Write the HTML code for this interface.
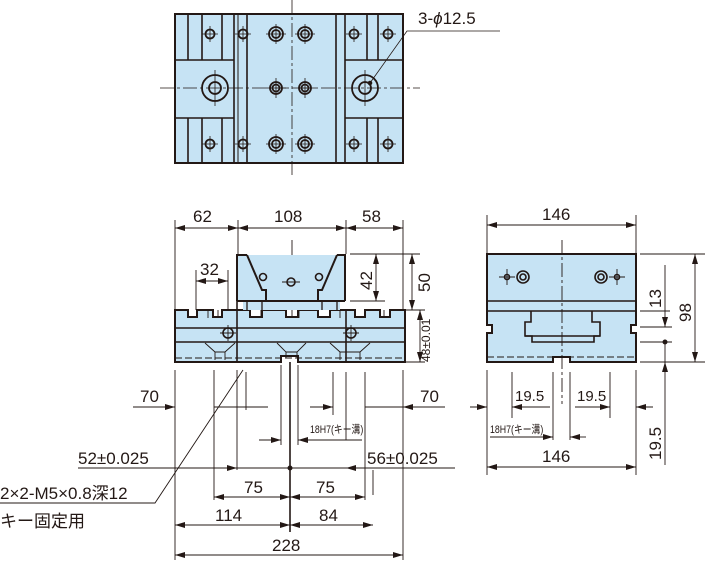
<!DOCTYPE html>
<html><head><meta charset="utf-8"><style>
html,body{margin:0;padding:0;background:#fff;}
svg{display:block;}
text{font-family:"Liberation Sans","Noto Sans CJK JP",sans-serif;fill:#231815;}
</style></head><body>
<svg width="705" height="564" viewBox="0 0 705 564" xmlns="http://www.w3.org/2000/svg">
<defs>
<marker id="a" viewBox="0 0 10 6" refX="10" refY="3" markerWidth="10" markerHeight="6" orient="auto-start-reverse" markerUnits="userSpaceOnUse"><path d="M0,0L10,3L0,6z" fill="#231815"/></marker>
</defs>
<g stroke="#231815" fill="none">
<!-- TOP VIEW -->
<rect x="175" y="14" width="228" height="149" fill="#c6e3f4" stroke-width="2"/>
<g stroke-width="1.6">
<line x1="234" y1="14" x2="234" y2="163"/><line x1="247" y1="14" x2="247" y2="163"/>
<line x1="238" y1="14" x2="238" y2="163" stroke-width="1"/>
<line x1="336" y1="14" x2="336" y2="163"/><line x1="345" y1="14" x2="345" y2="163"/>
<line x1="175" y1="60" x2="234" y2="60"/><line x1="175" y1="118" x2="234" y2="118"/>
<line x1="345" y1="60" x2="403" y2="60"/><line x1="345" y1="118" x2="403" y2="118"/>
<line x1="188" y1="14" x2="188" y2="60"/><line x1="202" y1="14" x2="202" y2="60"/><line x1="222" y1="14" x2="222" y2="60"/>
<line x1="188" y1="118" x2="188" y2="163"/><line x1="202" y1="118" x2="202" y2="163"/><line x1="222" y1="118" x2="222" y2="163"/>
<line x1="367" y1="14" x2="367" y2="60"/><line x1="378" y1="14" x2="378" y2="60"/>
<line x1="367" y1="118" x2="367" y2="163"/><line x1="378" y1="118" x2="378" y2="163"/>
</g>
<g stroke-width="1.8">
<circle cx="215" cy="88" r="13"/><circle cx="215" cy="88" r="6"/>
<circle cx="365" cy="88" r="13"/><circle cx="365" cy="88" r="6"/>
<circle cx="210" cy="34" r="4.5"/><circle cx="243" cy="34" r="4.5"/><circle cx="210" cy="144" r="4.5"/><circle cx="243" cy="144" r="4.5"/>
<circle cx="354" cy="34" r="4.5"/><circle cx="388" cy="34" r="4.5"/><circle cx="354" cy="144" r="4.5"/><circle cx="388" cy="144" r="4.5"/>
<circle cx="276" cy="34" r="7"/><circle cx="276" cy="34" r="4"/><circle cx="305" cy="34" r="7"/><circle cx="305" cy="34" r="4"/>
<circle cx="276" cy="88" r="6"/><circle cx="276" cy="88" r="3.5"/><circle cx="305" cy="88" r="6"/><circle cx="305" cy="88" r="3.5"/>
<circle cx="276" cy="144" r="7"/><circle cx="276" cy="144" r="4"/><circle cx="305" cy="144" r="7"/><circle cx="305" cy="144" r="4"/>
</g>
<g stroke-width="0.8">
<path d="M202 34h16M210 26v16M235 34h16M243 26v16M202 144h16M210 136v16M235 144h16M243 136v16"/>
<path d="M346 34h16M354 26v16M380 34h16M388 26v16M346 144h16M354 136v16M380 144h16M388 136v16"/>
<path d="M266 34h20M276 24v20M295 34h20M305 24v20M266 144h20M276 134v20M295 144h20M305 134v20"/>
<path d="M266 88h20M276 78v20M295 88h20M305 78v20"/>
<path d="M215 70v36M365 70v36"/>
<line x1="160" y1="88" x2="420" y2="88" stroke-dasharray="14,3,3,3"/>
<line x1="292" y1="0" x2="292" y2="175" stroke-dasharray="14,3,3,3"/>
<path d="M370 83L407 31H500"/>
</g>
<circle cx="370" cy="83" r="1.8" fill="#231815"/>

<!-- FRONT VIEW -->
<path d="M175 310H188V317H197V310H213V317H222V310H250V317H262V310H286V317H298V310H318V317H330V310H355V317H365V310H380V317H390V310H405V362H298V356H281V362H175Z" fill="#c6e3f4" stroke-width="2"/>
<rect x="237" y="255" width="108" height="46" fill="#c6e3f4" stroke="none"/>
<rect x="243" y="300" width="97" height="10" fill="#c6e3f4" stroke="none"/>
<path d="M247 255L262 290H266V301M337 255L322 290H318V301M237 301V255H247M345 301V255H337M237 301H266M318 301H345M266 301H318" stroke-width="2"/>
<path d="M247 301V310M262 301V310M322 301V310M337 301V310" stroke-width="1.3"/>
<g stroke-width="1.6">
<line x1="175" y1="328" x2="405" y2="328"/><line x1="175" y1="342" x2="405" y2="342"/>
<line x1="237" y1="301" x2="237" y2="362"/><line x1="346" y1="310" x2="346" y2="362"/>
<circle cx="263" cy="277" r="3.5"/><circle cx="319" cy="277" r="3.5"/><circle cx="291" cy="282" r="4"/>
<circle cx="228" cy="333" r="5"/><circle cx="351" cy="333" r="5"/>
</g>
<line x1="175" y1="358" x2="405" y2="358" stroke-dasharray="7,3" stroke-width="1"/>
<g stroke-width="0.9">
<path d="M282 282h18M228 325v16M220 333h16M351 325v16M343 333h16"/>
<path d="M205 343l10 9v8M235 343l-10 9v8M277 343l9 9v6M306 343l-9 9v6M330 343l10 9v8M370 343l-10 9v8"/>
<path d="M215 352h10M286 352h11M340 352h20"/>
<path d="M208 310v8M218 310v8M261 310v8M299 310v8M340 310v8M384 310v8M292 310v8"/>
</g>

<!-- SIDE VIEW -->
<path d="M487 254H636V325H631V333H636V362H570V357H553V362H487V333H492V325H487Z" fill="#c6e3f4" stroke-width="2"/>
<g stroke-width="1.6">
<line x1="487" y1="301" x2="636" y2="301"/><line x1="487" y1="311" x2="636" y2="311"/>
<path d="M531 311V322H525V336H532V342H594V336H600V322H592V311"/>
<path d="M525 336H600"/>
<circle cx="523" cy="277" r="6"/><circle cx="523" cy="277" r="3"/>
<circle cx="601" cy="277" r="6"/><circle cx="601" cy="277" r="3"/>
<circle cx="507" cy="277" r="2.5"/><circle cx="617" cy="277" r="2.5"/>
</g>
<line x1="487" y1="357" x2="636" y2="357" stroke-dasharray="7,3" stroke-width="1"/>
<g stroke-width="0.9">
<path d="M499 277h16M507 269v16M609 277h16M617 269v16"/>
<line x1="562" y1="240" x2="562" y2="404" stroke-dasharray="14,3,3,3"/>
</g>

<!-- DIMENSIONS -->
<g stroke-width="0.9">
<path d="M175 220V310M238 220V254M346 220V254M403 220V310"/>
<line x1="175" y1="228" x2="238" y2="228" marker-start="url(#a)" marker-end="url(#a)"/>
<line x1="238" y1="228" x2="346" y2="228" marker-start="url(#a)" marker-end="url(#a)"/>
<line x1="346" y1="228" x2="403" y2="228" marker-start="url(#a)" marker-end="url(#a)"/>
<path d="M292 240V255"/>
<path d="M196 270V310M228 270V310"/>
<line x1="196" y1="281" x2="228" y2="281" marker-start="url(#a)" marker-end="url(#a)"/>
<path d="M350 254H420M350 301H385M405 310H425M405 362H425"/>
<line x1="376" y1="254" x2="376" y2="301" marker-start="url(#a)" marker-end="url(#a)"/>
<line x1="412" y1="254" x2="412" y2="310" marker-start="url(#a)" marker-end="url(#a)"/>
<line x1="420" y1="310" x2="420" y2="362" marker-start="url(#a)" marker-end="url(#a)"/>
<path d="M487 215V254M636 215V254"/>
<line x1="487" y1="225" x2="636" y2="225" marker-start="url(#a)" marker-end="url(#a)"/>
<path d="M640 254H705M640 311H670M640 327H672M640 342H672M640 362H705"/>
<line x1="665" y1="311" x2="665" y2="327" marker-end="url(#a)"/>
<line x1="665" y1="265" x2="665" y2="311"/>
<line x1="665" y1="342" x2="665" y2="362"/>
<line x1="665" y1="378" x2="665" y2="362" marker-end="url(#a)"/>
<line x1="665" y1="378" x2="665" y2="465"/>
<line x1="695" y1="254" x2="695" y2="362" marker-start="url(#a)" marker-end="url(#a)"/>
<path d="M487 370V475M636 370V475M512 372V418M610 372V418M553 372V440M570 372V440"/>
<line x1="470" y1="407" x2="487" y2="407" marker-end="url(#a)"/>
<line x1="512" y1="407" x2="550" y2="407" marker-start="url(#a)"/>
<line x1="575" y1="407" x2="610" y2="407" marker-end="url(#a)"/>
<line x1="653" y1="407" x2="636" y2="407" marker-end="url(#a)"/>
<line x1="490" y1="437" x2="553" y2="437" marker-end="url(#a)"/>
<line x1="586" y1="437" x2="570" y2="437" marker-end="url(#a)"/>
<line x1="487" y1="467" x2="636" y2="467" marker-start="url(#a)" marker-end="url(#a)"/>
<path d="M175 370V560M403 370V560M214 370V500M237 370V470M246 372V410M281 365V445M298 365V445M333 372V415M346 372V440M365 372V500M373 470V495"/>
<line x1="290" y1="362" x2="290" y2="532" stroke-width="1.6"/>
<line x1="133" y1="407" x2="175" y2="407" marker-end="url(#a)"/>
<line x1="214" y1="407" x2="268" y2="407"/>
<line x1="310" y1="407" x2="333" y2="407" marker-end="url(#a)"/>
<line x1="445" y1="407" x2="403" y2="407" marker-end="url(#a)"/>
<line x1="403" y1="407" x2="365" y2="407"/>
<line x1="259" y1="440" x2="281" y2="440" marker-end="url(#a)"/>
<line x1="362" y1="440" x2="298" y2="440" marker-end="url(#a)"/>
<line x1="78" y1="468" x2="237" y2="468" marker-end="url(#a)"/>
<line x1="237" y1="468" x2="346" y2="468"/>
<line x1="455" y1="468" x2="346" y2="468" marker-end="url(#a)"/>
<line x1="214" y1="497" x2="290" y2="497" marker-start="url(#a)" marker-end="url(#a)"/>
<line x1="290" y1="497" x2="365" y2="497" marker-start="url(#a)" marker-end="url(#a)"/>
<line x1="175" y1="525" x2="290" y2="525" marker-start="url(#a)" marker-end="url(#a)"/>
<line x1="290" y1="525" x2="373" y2="525" marker-start="url(#a)" marker-end="url(#a)"/>
<line x1="175" y1="555" x2="403" y2="555" marker-start="url(#a)" marker-end="url(#a)"/>
<path d="M0 503H155L243 370"/>
</g>
<circle cx="290" cy="468" r="2" fill="#231815"/>
<circle cx="665" cy="342" r="2" fill="#231815"/>
</g>
<g font-size="17">
<text x="418" y="24">3-<tspan font-style="italic">ϕ</tspan>12.5</text>
<text x="193" y="222">62</text><text x="274" y="222">108</text><text x="362" y="222">58</text>
<text x="542" y="220">146</text>
<text x="200" y="275">32</text>
<text transform="translate(372,290) rotate(-90)">42</text>
<text transform="translate(430,292) rotate(-90)">50</text>
<text transform="translate(430,362) rotate(-90)" font-size="12">48±0.01</text>
<text transform="translate(661,308) rotate(-90)">13</text>
<text transform="translate(691,322) rotate(-90)">98</text>
<text transform="translate(661,460) rotate(-90)">19.5</text>
<text x="140" y="402">70</text><text x="420" y="402">70</text>
<text x="515" y="401" font-size="15">19.5</text><text x="577" y="401" font-size="15">19.5</text>
<text x="78" y="464">52±0.025</text><text x="367" y="464">56±0.025</text>
<text x="542" y="462">146</text>
<text x="244" y="493">75</text><text x="316" y="493">75</text>
<text x="215" y="521">114</text><text x="319" y="521">84</text>
<text x="272" y="551">228</text>
<text x="0" y="499">2×2-M5×0.8深12</text>
<text x="0" y="527">キー固定用</text>
</g>
<text x="310" y="433" font-size="11" transform="translate(310,433) scale(0.8,1) translate(-310,-433)">18H7(キー溝)</text>
<text x="490" y="433" font-size="11" transform="translate(490,433) scale(0.8,1) translate(-490,-433)">18H7(キー溝)</text>
</svg>
</body></html>
